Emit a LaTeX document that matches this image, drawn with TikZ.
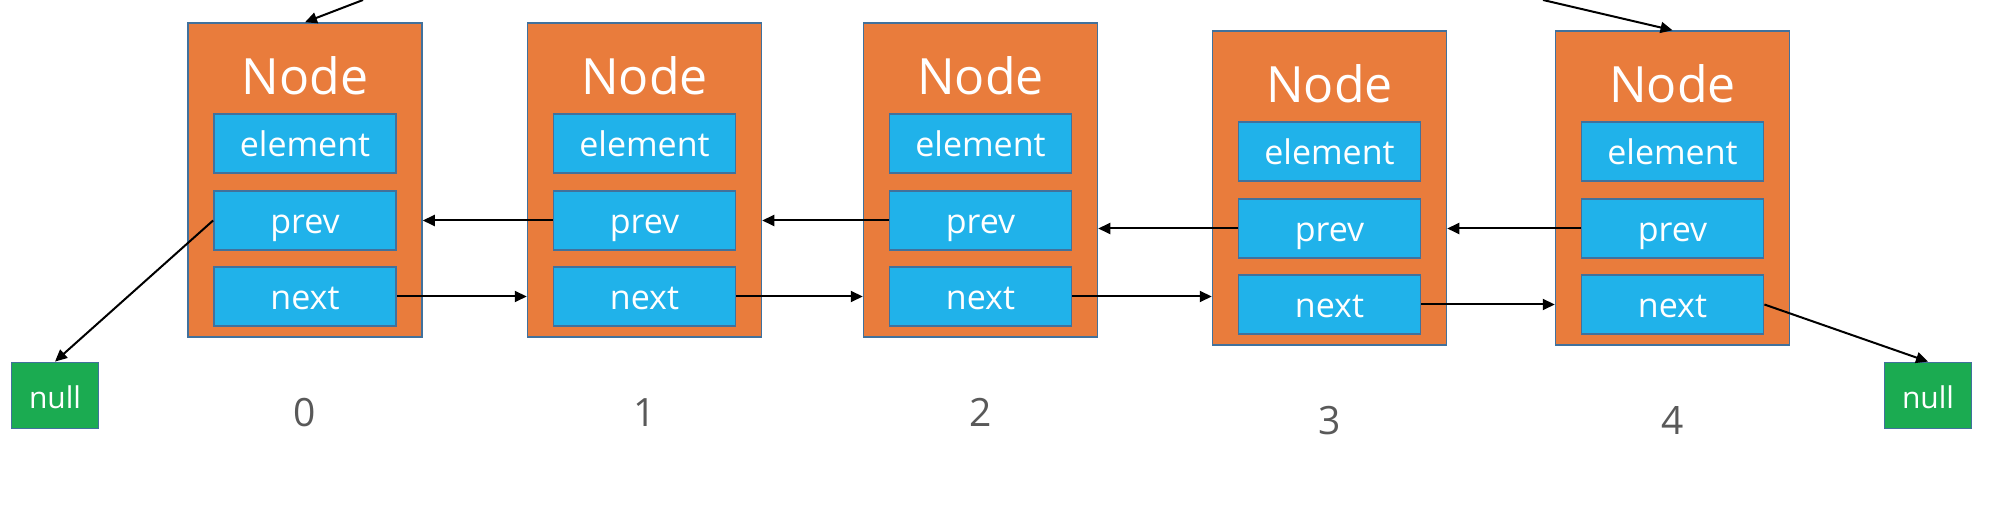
\documentclass[tikz,border=0pt]{standalone}
\usepackage{fontspec}
\setmainfont{Open Sans}
\usetikzlibrary{arrows.meta}
\definecolor{nodeorange}{HTML}{E97C3C}
\definecolor{fieldblue}{HTML}{20B2EA}
\definecolor{edgeblue}{HTML}{41719C}
\definecolor{nullgreen}{HTML}{1BAB51}
\definecolor{labelgray}{HTML}{595959}
\begin{document}
\begin{tikzpicture}[x=0.5pt,y=-0.5pt,
  outerbox/.style={draw=edgeblue, line width=0.75pt, fill=nodeorange,
    minimum width=117pt, minimum height=157pt, inner sep=0pt},
  field/.style={draw=edgeblue, line width=0.9pt, fill=fieldblue,
    minimum width=91pt, minimum height=29.5pt, inner sep=0pt, text=white,
    text height=15pt, text depth=2pt, font=\fontsize{17}{20}\selectfont},
  titletext/.style={text=white, inner sep=0pt, anchor=base,
    font=\fontsize{25}{30}\selectfont},
  nullbox/.style={draw=edgeblue, line width=0.9pt, fill=nullgreen,
    minimum width=43.5pt, minimum height=33pt, inner sep=0pt, text=white,
    text height=14.5pt, text depth=1pt, font=\fontsize{15}{18}\selectfont},
  idx/.style={text=labelgray, inner sep=0pt, anchor=base,
    font=\fontsize{19.5}{23}\selectfont},
  arr/.style={draw=black, line width=1pt, -{Triangle[length=6pt,width=5.5pt]}}]
\fill[white] (0,0) rectangle (1992,512);
\useasboundingbox (0,0) rectangle (1992,512);
\begin{scope}
\clip (0,0) rectangle (1992,512);
\foreach \cx/\dy [count=\i from 0] in {305/0,644.5/0,980.5/0,1329.5/8,1672.5/8}{
  \node[outerbox] (b\i) at (\cx,180+\dy) {};
  \node[titletext] (t\i) at (\cx,95+\dy) {Node};
  \node[field] (e\i) at (\cx,143.5+\dy) {element};
  \node[field] (p\i) at (\cx,220.5+\dy) {prev};
  \node[field] (n\i) at (\cx,296.5+\dy) {next};
  \node[idx] (l\i) at (\cx,427+\dy) {\i};
}
\node[nullbox] (nullL) at (55,395.5) {null};
\node[nullbox] (nullR) at (1928,395.5) {null};
\foreach \a/\b in {0/1,1/2,2/3,3/4}{
  \draw[arr] (n\a.east) -- (n\a.east -| b\b.west);
  \draw[arr] (p\b.west) -- (p\b.west -| b\a.east);
}
\draw[arr] (p0.west) -- (nullL.north);
\draw[arr] (n4.east) -- (nullR.north);
\coordinate (headfree) at (363,0);
\coordinate (tailfree) at (1543,0);
\draw[arr] (headfree) -- (b0.north);
\draw[arr] (tailfree) -- (b4.north);
\end{scope}
\end{tikzpicture}
\end{document}
